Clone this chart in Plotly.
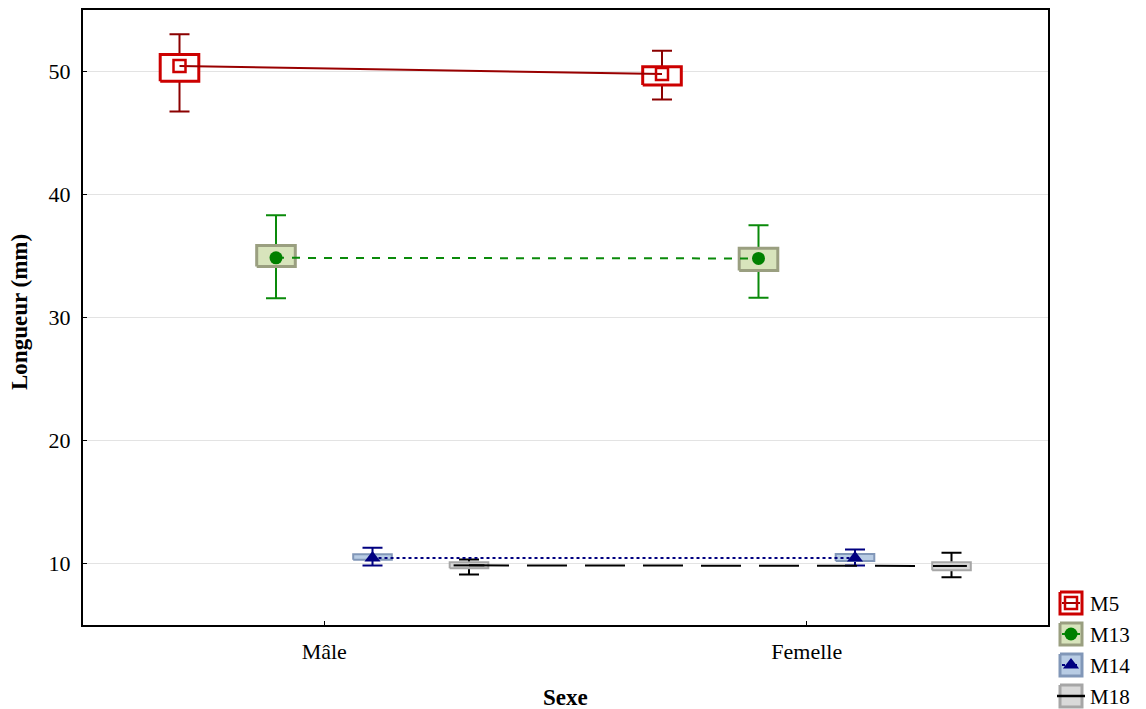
import plotly.graph_objects as go

# ---- data ----------------------------------------------------------------
categories = ["Mâle", "Femelle"]
series = ["M5", "M13", "M14", "M18"]

mean_m5 = [50.45, 49.80]
mean_m13 = [34.85, 34.80]
mean_m14 = [10.45, 10.45]
mean_m18 = [9.85, 9.80]

box_lo_m5 = [49.20, 48.90]
box_hi_m5 = [51.38, 50.38]
box_lo_m13 = [34.15, 33.82]
box_hi_m13 = [35.85, 35.63]
box_lo_m14 = [10.30, 10.20]
box_hi_m14 = [10.75, 10.78]
box_lo_m18 = [9.62, 9.45]
box_hi_m18 = [10.10, 10.10]

whisk_lo_m5 = [46.75, 47.72]
whisk_hi_m5 = [53.03, 51.68]
whisk_lo_m13 = [31.57, 31.60]
whisk_hi_m13 = [38.32, 37.50]
whisk_lo_m14 = [9.84, 9.84]
whisk_hi_m14 = [11.28, 11.14]
whisk_lo_m18 = [9.10, 8.89]
whisk_hi_m18 = [10.33, 10.87]

y_ticks = [10, 20, 30, 40, 50]

# ---- styles --------------------------------------------------------------
W, H = 1146, 709
FONT = "Liberation Serif, Times New Roman, serif"

styles = {
    "M5": dict(offset=-0.3, mean=mean_m5, blo=box_lo_m5, bhi=box_hi_m5,
               wlo=whisk_lo_m5, whi=whisk_hi_m5,
               fill="#FFFFFF", border="#CC0000", bw=3, whisk="#8B0000",
               line=dict(color="#990000", width=2, dash="solid"),
               marker=dict(symbol="square-open", size=12, color="#CC0000",
                           line=dict(width=2.5, color="#CC0000"))),
    "M13": dict(offset=-0.1, mean=mean_m13, blo=box_lo_m13, bhi=box_hi_m13,
                wlo=whisk_lo_m13, whi=whisk_hi_m13,
                fill="#D8E4BC", border="#9A9F80", bw=3, whisk="#0A8A0A",
                line=dict(color="#0A8A0A", width=2, dash="8px,8px"),
                marker=dict(symbol="circle", size=13, color="#008000")),
    "M14": dict(offset=0.1, mean=mean_m14, blo=box_lo_m14, bhi=box_hi_m14,
                wlo=whisk_lo_m14, whi=whisk_hi_m14,
                fill="#B8CCE4", border="#8197B8", bw=2, whisk="#000080",
                line=dict(color="#000080", width=2, dash="dot"),
                marker=dict(symbol="triangle-up", size=14, color="#000080")),
    "M18": dict(offset=0.3, mean=mean_m18, blo=box_lo_m18, bhi=box_hi_m18,
                wlo=whisk_lo_m18, whi=whisk_hi_m18,
                fill="#D9D9D9", border="#A6A6A6", bw=2, whisk="#000000",
                line=dict(color="#000000", width=2, dash="40px,18px"),
                marker=dict(symbol="line-ew", size=22,
                            line=dict(width=2, color="#000000"))),
}

HALF_BOX = 0.04
xpos = list(range(len(categories)))

fig = go.Figure()

# whiskers first (boxes are drawn over their inner part)
for name in series:
    s = styles[name]
    xs = [x + s["offset"] for x in xpos]
    fig.add_trace(go.Scatter(
        x=xs, y=s["mean"], mode="markers",
        marker=dict(size=1, opacity=0),
        error_y=dict(type="data", symmetric=False,
                     array=[h - m for h, m in zip(s["whi"], s["mean"])],
                     arrayminus=[m - l for m, l in zip(s["mean"], s["wlo"])],
                     color=s["whisk"], thickness=2, width=10),
        showlegend=False, hoverinfo="skip"))

# boxes
for name in series:
    s = styles[name]
    bx, by = [], []
    for x, lo, hi in zip(xpos, s["blo"], s["bhi"]):
        c = x + s["offset"]
        bx += [c - HALF_BOX, c + HALF_BOX, c + HALF_BOX, c - HALF_BOX, c - HALF_BOX, None]
        by += [lo, lo, hi, hi, lo, None]
    fig.add_trace(go.Scatter(
        x=bx, y=by, mode="lines", fill="toself", fillcolor=s["fill"],
        line=dict(color=s["border"], width=s["bw"]),
        showlegend=False, hoverinfo="skip"))

# mean lines and markers
for name in series:
    s = styles[name]
    xs = [x + s["offset"] for x in xpos]
    fig.add_trace(go.Scatter(
        x=xs, y=s["mean"], mode="lines", line=s["line"],
        showlegend=False, hoverinfo="skip"))
    fig.add_trace(go.Scatter(
        x=xs, y=s["mean"], mode="markers", marker=s["marker"],
        showlegend=False, name=name))

# ---- legend (drawn in its own small pixel-scaled panel) ------------------
leg_x0, leg_x1 = 1060, 1082
leg_rows = [603, 634, 665, 696]
for name, yc in zip(series, leg_rows):
    s = styles[name]
    fig.add_trace(go.Scatter(
        x=[leg_x0, leg_x1, leg_x1, leg_x0, leg_x0],
        y=[yc - 11, yc - 11, yc + 11, yc + 11, yc - 11],
        xaxis="x2", yaxis="y2", mode="lines", fill="toself",
        fillcolor=s["fill"], line=dict(color=s["border"], width=3),
        showlegend=False, hoverinfo="skip"))
    lw = dict(s["line"])
    lw["dash"] = "solid" if name != "M14" else "dot"
    fig.add_trace(go.Scatter(
        x=[leg_x0 + 2, leg_x1 - 2], y=[yc, yc], xaxis="x2", yaxis="y2",
        mode="lines", line=lw, showlegend=False, hoverinfo="skip"))
    m = dict(s["marker"])
    if name == "M18":
        m = dict(symbol="line-ew", size=20, line=dict(width=2.5, color="#000000"))
    fig.add_trace(go.Scatter(
        x=[(leg_x0 + leg_x1) / 2], y=[yc], xaxis="x2", yaxis="y2",
        mode="markers", marker=m, showlegend=False, hoverinfo="skip"))
    fig.add_annotation(x=1088, y=yc + 1, xref="x2", yref="y2", text=name,
                       showarrow=False, xanchor="left", yanchor="middle",
                       font=dict(family=FONT, size=21, color="#000000"))

# ---- axes ----------------------------------------------------------------
plot_l, plot_r, plot_t, plot_b = 83, 1048, 10, 625

fig.update_layout(
    width=W, height=H,
    margin=dict(l=0, r=0, t=0, b=0),
    paper_bgcolor="white", plot_bgcolor="white",
    font=dict(family=FONT, size=22, color="#000000"),
    showlegend=False,
    xaxis=dict(domain=[plot_l / W, plot_r / W], range=[-0.5, 1.5],
               tickvals=xpos, ticktext=categories,
               ticks="inside", ticklen=4, tickwidth=1, tickcolor="#000000",
               showgrid=False, zeroline=False,
               showline=True, linecolor="#000000", linewidth=2, mirror=True,
               ticklabelstandoff=6,
               tickfont=dict(family=FONT, size=22)),
    yaxis=dict(domain=[1 - plot_b / H, 1 - plot_t / H], range=[5, 55],
               tickvals=y_ticks, ticks="inside", ticklen=4, tickwidth=1,
               tickcolor="#000000",
               showgrid=True, gridcolor="#E3E3E3", gridwidth=1, zeroline=False,
               showline=True, linecolor="#000000", linewidth=2, mirror=True,
               ticklabelstandoff=6,
               tickfont=dict(family=FONT, size=22)),
    xaxis2=dict(domain=[1056 / W, 1.0], range=[1056, W], visible=False,
                anchor="y2", fixedrange=True),
    yaxis2=dict(domain=[0.0, 1 - 585 / H], range=[H, 585], visible=False,
                anchor="x2", fixedrange=True),
)

fig.add_annotation(x=(plot_l + plot_r) / 2 / W, y=1 - 697 / H, xref="paper", yref="paper",
                   text="<b>Sexe</b>", showarrow=False, xanchor="center", yanchor="middle",
                   font=dict(family=FONT, size=23))
fig.add_annotation(x=19 / W, y=1 - 312 / H, xref="paper", yref="paper",
                   text="<b>Longueur (mm)</b>", showarrow=False, textangle=-90,
                   xanchor="center", yanchor="middle",
                   font=dict(family=FONT, size=23))

fig.write_html("out.html")
